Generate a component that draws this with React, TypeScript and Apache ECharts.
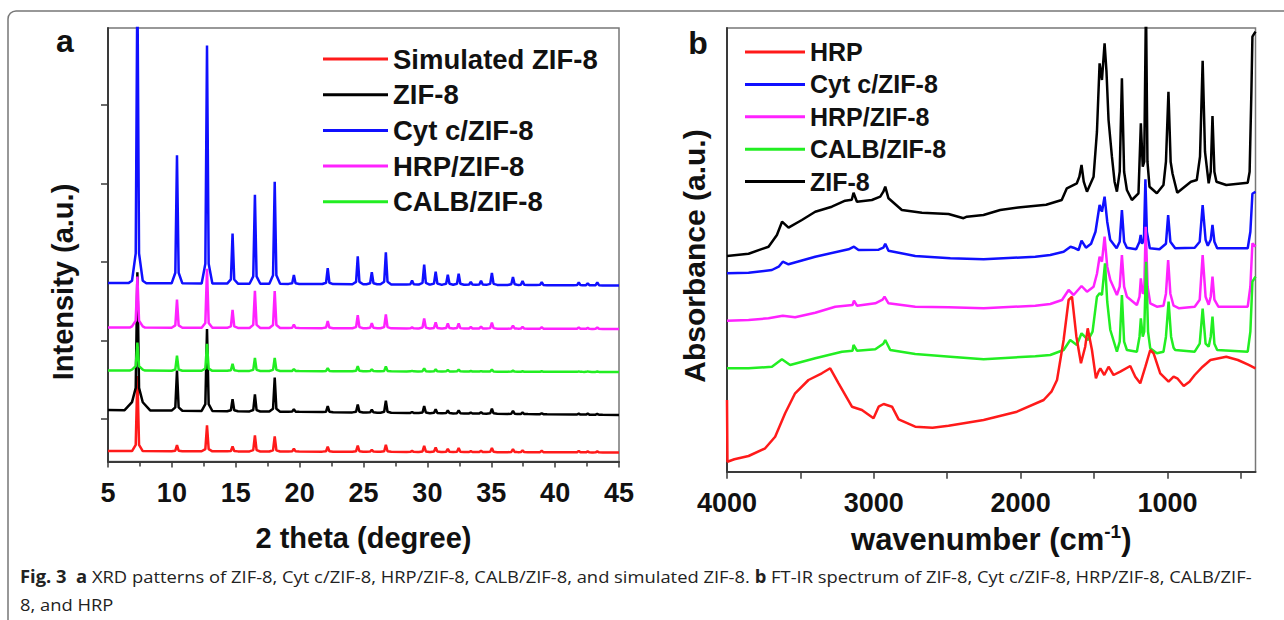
import React, { useEffect, useRef } from "react";
import * as echarts from "echarts";

const FONT = '"Liberation Sans", Arial, Helvetica, sans-serif';
const CAP_FONT = '"Open Sans", "Noto Sans", sans-serif';

// ---------- Panel a : XRD ----------
const XRD_TICKS_X = [5, 10, 15, 20, 25, 30, 35, 40, 45];
const XRD_Y_TICKS = [42.5, 121, 199.5, 278, 356.5];
const XRD_POS = [7.3, 10.4, 12.75, 14.75, 16.5, 18.05, 19.55, 22.2, 24.55, 25.65, 26.75, 28.8, 29.75, 30.65, 31.6, 32.45, 33.4, 34.2, 35.05, 36.7, 37.45, 38.95, 41.85, 42.55, 43.3];
const XRD_CYTC = [300, 128, 238, 50, 89, 102, 9, 16, 28, 12, 32, 4, 20, 13, 10, 11, 3, 4, 12, 8, 4, 3, 3, 2, 3];
const XRD_HRP = [47, 28, 59, 18, 37, 37, 3.5, 7, 13, 5, 14, 1, 10, 6, 5, 5, 1.5, 2, 6, 3, 2, 1.5, 1.5, 1, 1.5];
const XRD_CALB = [25, 15, 27, 7, 13, 13, 2, 3, 5, 2, 5, 0.5, 3, 2, 1.5, 2, 0.5, 0.5, 2, 1, 0.5, 0.5, 0.5, 0.5, 0.5];
const XRD_ZIF8 = [124, 40, 82, 12, 17, 34, 2.5, 6, 8, 3, 12, 1, 7, 4, 3, 3, 1, 1.5, 5, 3, 1.5, 1, 1, 1, 1];
const XRD_SIM = [75, 6, 26, 5, 16, 15, 3, 5, 6, 2, 7, 1, 6, 4.5, 3, 4, 1, 1.5, 4, 3, 2, 1.5, 1.5, 1, 1];
// baselines [at 5°, at 45°]
const BASE_CYTC = [178.5, 176];
const BASE_HRP = [134, 132.5];
const BASE_CALB = [91, 89.5];
const BASE_ZIF8 = [51.5, 46.5];
const BASE_SIM = [10.5, 9];
// broad humps under the first reflection: [position, height, half width]
const BROAD_CYTC = [[7.3, 6, 0.7]];
const BROAD_HRP = [[7.3, 4, 0.6]];
const BROAD_CALB = [[7.3, 3, 0.6]];
const BROAD_ZIF8 = [[7.3, 14, 1.0]];
const BROAD_SIM: number[][] = [];

// ---------- Panel b : FT-IR ----------
const IR_LABELS = [1000, 2000, 3000, 4000];
const IR_TICKS = [500, 1000, 1500, 2000, 2500, 3000, 3500, 4000];
const IR_ZIF8 = [
  [4000, 215.7], [3853, 218], [3717, 225], [3660, 236.7], [3625, 250], [3581, 244], [3490, 251.7], [3399, 260],
  [3286, 265], [3195, 271], [3150, 272], [3138, 279], [3115, 270], [3013, 271.7], [2956, 275], [2935, 280],
  [2922, 285], [2900, 273.4], [2809, 261.7], [2672, 259], [2491, 257.7], [2389, 253.5], [2366, 255], [2253, 256.7],
  [2139, 261.7], [2000, 264.5], [1826, 267], [1720, 271.7], [1685, 283.4], [1617, 288.4], [1600, 295], [1585, 306.7],
  [1570, 290], [1548, 280], [1503, 295], [1480, 340], [1462, 408.4], [1446, 391.7], [1428, 428.4], [1415, 400],
  [1401, 351.7], [1378, 315], [1360, 290], [1344, 280], [1325, 300], [1310, 393.4], [1295, 300], [1276, 281.7],
  [1242, 271.7], [1197, 278.4], [1181, 348.4], [1168, 305], [1158, 310], [1146, 470], [1136, 310], [1122, 285],
  [1072, 278.4], [1027, 286.7], [1010, 310], [993, 380], [978, 310], [965, 298], [933, 279], [840, 290],
  [800, 291.7], [778, 315], [760, 411], [744, 320], [719, 288.4], [705, 300], [693, 355.7], [680, 300],
  [666, 290], [599, 286.7], [453, 289], [440, 300], [428, 380], [421, 435], [400, 440]
];
const IR_CYTC = [
  [4000, 198.4], [3853, 199], [3694, 201.7], [3648, 205], [3620, 210], [3581, 207.4], [3399, 215], [3172, 222.4],
  [3135, 225], [3104, 221.7], [2967, 222], [2935, 224], [2922, 228], [2900, 221], [2718, 215.7], [2479, 213.4],
  [2252, 212.4], [1900, 215], [1798, 216.7], [1707, 220], [1660, 225], [1639, 224], [1605, 221.7], [1585, 231],
  [1555, 224], [1520, 228], [1490, 240], [1462, 266.7], [1446, 260], [1428, 275], [1410, 250], [1390, 232],
  [1346, 223.4], [1325, 230], [1310, 261.7], [1295, 230], [1276, 224], [1213, 222.4], [1190, 230], [1182, 236.7],
  [1173, 228], [1160, 232], [1150, 292.4], [1140, 240], [1120, 223.4], [1054, 222.4], [1010, 228], [995, 256.7],
  [980, 230], [947, 223.4], [814, 224], [780, 230], [760, 266.7], [740, 232], [725, 226], [705, 232],
  [693, 246.7], [680, 230], [661, 223.4], [453, 223.4], [435, 240], [421, 278], [400, 280]
];
const IR_HRPZIF = [
  [4000, 151], [3853, 151.7], [3717, 153.4], [3620, 156], [3536, 154.4], [3399, 159], [3263, 165], [3145, 166.7],
  [3135, 171], [3115, 166], [2990, 168.4], [2940, 172], [2927, 175], [2900, 168.4], [2718, 165], [2491, 164.4],
  [2252, 163.4], [1900, 166], [1798, 167.7], [1718, 171.7], [1690, 178], [1673, 181.7], [1639, 176.7], [1585, 185.7],
  [1548, 180], [1503, 185], [1480, 198], [1462, 215], [1446, 210], [1428, 235], [1410, 205], [1389, 191.7],
  [1344, 176.7], [1325, 185], [1310, 216.7], [1295, 185], [1276, 175], [1208, 166.7], [1190, 175], [1181, 193.4],
  [1168, 178], [1158, 180], [1148, 245], [1135, 185], [1117, 168.4], [1072, 165], [1027, 166], [1010, 178],
  [995, 211.7], [980, 178], [958, 166], [920, 163.4], [814, 165], [780, 172], [760, 216.7], [740, 175],
  [719, 167], [705, 175], [693, 195], [680, 172], [653, 165], [453, 165], [435, 185], [421, 228.4], [400, 225]
];
const IR_CALB = [
  [4000, 103.4], [3853, 103.4], [3694, 105], [3626, 112.4], [3570, 106.7], [3399, 113.4], [3217, 120], [3145, 121],
  [3138, 126.7], [3115, 121], [2990, 122.4], [2935, 128], [2922, 131.7], [2888, 121.7], [2718, 117.7], [2479, 115],
  [2252, 112.4], [1900, 115.5], [1798, 116.7], [1707, 121.7], [1662, 131.7], [1617, 126.7], [1585, 138.4], [1540, 131.7],
  [1510, 140], [1480, 175], [1462, 178.4], [1446, 176.7], [1425, 208.4], [1410, 170], [1389, 141.7], [1344, 120],
  [1325, 130], [1310, 176.7], [1295, 130], [1276, 121.7], [1208, 120], [1190, 135], [1181, 153.4], [1168, 135],
  [1158, 140], [1145, 210], [1132, 140], [1117, 123.4], [1072, 118.4], [1027, 120], [1010, 135], [992, 170],
  [975, 135], [958, 124], [947, 121.7], [814, 120], [780, 128], [760, 163], [740, 128], [719, 125],
  [705, 135], [693, 155], [680, 128], [661, 121.7], [453, 120], [435, 140], [421, 190], [400, 195]
];
const IR_HRP = [
  [4000, 71.7], [3997, 10], [3950, 12.4], [3853, 15.7], [3740, 23.4], [3672, 35], [3604, 58.4], [3536, 78.4],
  [3445, 91.7], [3354, 98.4], [3297, 103.4], [3240, 88.4], [3149, 65], [3081, 61.7], [3002, 53.4], [2967, 65],
  [2933, 67.7], [2876, 65], [2831, 52.4], [2718, 45], [2600, 44], [2491, 46], [2252, 51.7], [2025, 60],
  [1843, 71.7], [1790, 80], [1752, 91.7], [1707, 131.7], [1673, 171.7], [1650, 175], [1620, 135], [1589, 108.4],
  [1560, 125], [1543, 143.4], [1514, 121.7], [1487, 93.4], [1470, 100], [1457, 103.4], [1430, 96.7], [1401, 105],
  [1367, 96.7], [1321, 100], [1253, 105.7], [1219, 95], [1185, 88.4], [1150, 105], [1117, 121.7], [1094, 118.4],
  [1049, 98.4], [992, 90], [958, 95], [930, 93], [889, 85.7], [850, 90], [814, 96.7], [760, 105],
  [707, 111.7], [599, 115], [520, 111.7], [450, 107], [400, 103.4]
];

const RED = "#ff1a1a";
const BLACK = "#000000";
const BLUE = "#1010ff";
const MAGENTA = "#ff22ff";
const GREEN = "#22ee22";

// peak shape: narrow tip plus a wider foot
const NARROW_HW = 0.13;
const FOOT_HW = 0.42;
const FOOT_SHARE = 0.12;

function xrdLine(heights: number[], base: number[], broad: number[][]) {
  const feats: number[][] = [];
  XRD_POS.forEach((p, i) => {
    feats.push([p, heights[i] * (1 - FOOT_SHARE), NARROW_HW]);
    feats.push([p, heights[i] * FOOT_SHARE, FOOT_HW]);
  });
  broad.forEach((b) => feats.push(b));
  const xs = new Set<number>([5, 45]);
  feats.forEach(([p, , w]) => {
    xs.add(+(p - w).toFixed(3));
    xs.add(+p.toFixed(3));
    xs.add(+(p + w).toFixed(3));
  });
  const sorted = Array.from(xs).filter((x) => x >= 5 && x <= 45).sort((a, b) => a - b);
  return sorted.map((x) => {
    let y = base[0] + ((base[1] - base[0]) * (x - 5)) / 40;
    feats.forEach(([p, h, w]) => {
      const d = Math.abs(x - p);
      if (d < w) y += h * (1 - d / w);
    });
    return [x, +y.toFixed(2)];
  });
}

export default function App() {
  const ref = useRef<HTMLDivElement>(null);
  useEffect(() => {
    if (!ref.current) return;
    const chart = echarts.init(ref.current, undefined, { renderer: "svg" });
    const axisLine = { show: true, lineStyle: { color: "#3a3a3a", width: 2 } };
    const tickLabel = { fontFamily: FONT, fontSize: 27, fontWeight: "bold", color: "#111" };
    const line = (name: string, color: string, data: any, idx: number, z: number) => ({
      name,
      type: "line",
      xAxisIndex: idx,
      yAxisIndex: idx,
      data,
      showSymbol: false,
      symbol: "none",
      silent: true,
      clip: true,
      z,
      itemStyle: { color },
      lineStyle: { color, width: 2.5 },
    });
    chart.setOption({
      animation: false,
      backgroundColor: "#ffffff",
      grid: [
        { left: 108, top: 28, width: 511, height: 433.5, show: true, borderColor: "#777", borderWidth: 1.5, backgroundColor: "transparent", outerBoundsMode: "none" },
        { left: 727, top: 28, width: 528.5, height: 443.7, show: true, borderColor: "#777", borderWidth: 1.5, backgroundColor: "transparent", outerBoundsMode: "none" },
      ],
      xAxis: [
        {
          type: "value", gridIndex: 0, min: 5, max: 45, interval: 5,
          axisLine, splitLine: { show: false },
          axisTick: { show: true, inside: false, length: 6, lineStyle: { color: "#3a3a3a", width: 1.5 } },
          minorTick: { show: true, splitNumber: 2, length: 5, lineStyle: { color: "#3a3a3a", width: 1.5 } },
          axisLabel: { ...tickLabel, margin: 18, showMinLabel: true, showMaxLabel: true, customValues: XRD_TICKS_X },
          name: "2 theta (degree)", nameLocation: "middle", nameGap: 62,
          nameTextStyle: { fontFamily: FONT, fontSize: 29, fontWeight: "bold", color: "#111" },
        },
        {
          type: "value", gridIndex: 1, min: 400, max: 4000, inverse: true,
          axisLine, splitLine: { show: false },
          axisTick: { show: true, inside: false, length: 7, customValues: IR_TICKS, lineStyle: { color: "#3a3a3a", width: 1.5 } },
          axisLabel: { ...tickLabel, margin: 18, customValues: IR_LABELS, formatter: (v: number) => String(v) },
          name: "wavenumber (cm{s|-1})", nameLocation: "middle", nameGap: 41,
          nameTextStyle: {
            fontFamily: FONT, fontSize: 31, fontWeight: "bold", color: "#111",
            rich: {
              s: { fontFamily: FONT, fontSize: 19, fontWeight: "bold", color: "#111", verticalAlign: "top", padding: [0, 0, 16, 0] },
            },
          },
        },
      ],
      yAxis: [
        {
          type: "value", gridIndex: 0, min: 0, max: 433.5,
          axisLine, splitLine: { show: false },
          axisTick: { show: true, inside: false, length: 7, customValues: XRD_Y_TICKS, lineStyle: { color: "#3a3a3a", width: 1.5 } },
          axisLabel: { show: false },
        },
        {
          type: "value", gridIndex: 1, min: 0, max: 443.7,
          axisLine, splitLine: { show: false },
          axisTick: { show: false },
          axisLabel: { show: false },
        },
      ],
      legend: [
        {
          orient: "vertical", left: 318, top: 39, itemWidth: 65, itemHeight: 3, icon: "rect", itemGap: 5.7,
          textStyle: { fontFamily: FONT, fontSize: 27.5, fontWeight: "bold", color: "#111", lineHeight: 30 },
          data: ["Simulated ZIF-8", "ZIF-8", "Cyt c/ZIF-8", "HRP/ZIF-8", "CALB/ZIF-8"],
          selectedMode: false,
        },
        {
          orient: "vertical", left: 740, top: 33, itemWidth: 60, itemHeight: 3, icon: "rect", itemGap: 4.4,
          textStyle: { fontFamily: FONT, fontSize: 25, fontWeight: "bold", color: "#111", lineHeight: 28 },
          data: ["HRP", "Cyt c/ZIF-8", "HRP/ZIF-8", "CALB/ZIF-8", "ZIF-8"],
          selectedMode: false,
        },
      ],
      series: [
        line("Simulated ZIF-8", RED, xrdLine(XRD_SIM, BASE_SIM, BROAD_SIM), 0, 2),
        line("ZIF-8", BLACK, xrdLine(XRD_ZIF8, BASE_ZIF8, BROAD_ZIF8), 0, 3),
        line("CALB/ZIF-8", GREEN, xrdLine(XRD_CALB, BASE_CALB, BROAD_CALB), 0, 4),
        line("HRP/ZIF-8", MAGENTA, xrdLine(XRD_HRP, BASE_HRP, BROAD_HRP), 0, 5),
        line("Cyt c/ZIF-8", BLUE, xrdLine(XRD_CYTC, BASE_CYTC, BROAD_CYTC), 0, 6),
        line("Cyt c/ZIF-8", BLUE, IR_CYTC, 1, 2),
        line("ZIF-8", BLACK, IR_ZIF8, 1, 3),
        line("HRP/ZIF-8", MAGENTA, IR_HRPZIF, 1, 4),
        line("CALB/ZIF-8", GREEN, IR_CALB, 1, 5),
        line("HRP", RED, IR_HRP, 1, 6),
      ],
      graphic: [
        { type: "rect", silent: true, z: 0, shape: { x: 8, y: 11, width: 1400, height: 900, r: 8 }, style: { fill: "none", stroke: "#777", lineWidth: 1.5 } },
        { type: "text", x: 65, y: 41, style: { text: "a", fontFamily: FONT, fontSize: 32, fontWeight: "bold", fill: "#111", align: "center", verticalAlign: "middle" } },
        { type: "text", x: 698, y: 43, style: { text: "b", fontFamily: FONT, fontSize: 32, fontWeight: "bold", fill: "#111", align: "center", verticalAlign: "middle" } },
        { type: "text", x: 63, y: 282, rotation: Math.PI / 2, style: { text: "Intensity (a.u.)", fontFamily: FONT, fontSize: 29, fontWeight: "bold", fill: "#111", align: "center", verticalAlign: "middle" } },
        { type: "text", x: 694, y: 256, rotation: Math.PI / 2, style: { text: "Absorbance (a.u.)", fontFamily: FONT, fontSize: 30, fontWeight: "bold", fill: "#111", align: "center", verticalAlign: "middle" } },
        {
          type: "text", x: 20, y: 576, scaleX: 1.08,
          style: {
            text: "{b|Fig. 3}  {b|a} XRD patterns of ZIF-8, Cyt c/ZIF-8, HRP/ZIF-8, CALB/ZIF-8, and simulated ZIF-8. {b|b} FT-IR spectrum of ZIF-8, Cyt c/ZIF-8, HRP/ZIF-8, CALB/ZIF-",
            fontFamily: CAP_FONT, fontSize: 17, fill: "#222", verticalAlign: "middle",
            rich: { b: { fontFamily: CAP_FONT, fontSize: 17, fontWeight: "bold", fill: "#222" } },
          },
        },
        { type: "text", x: 20, y: 604, scaleX: 1.08, style: { text: "8, and HRP", fontFamily: CAP_FONT, fontSize: 17, fill: "#222", verticalAlign: "middle" } },
      ],
    });
    return () => chart.dispose();
  }, []);
  return <div ref={ref} style={{ position: "absolute", left: 0, top: 0, width: 1284, height: 620, background: "#fff" }} />;
}
